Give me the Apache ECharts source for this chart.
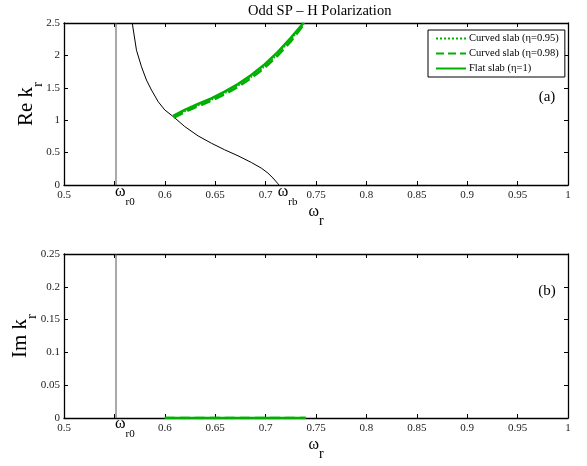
<!DOCTYPE html>
<html>
<head>
<meta charset="utf-8">
<script src="https://cdn.jsdelivr.net/npm/echarts@6/dist/echarts.min.js"></script>
<style>html,body{margin:0;padding:0;background:#fff;}#c{width:587px;height:466px;}</style>
</head>
<body>
<div id="c"></div>
<script>
// ---- data ----
var xTicksMin = 0.5, xTicksMax = 1, xStep = 0.05;
var omegaR0 = 0.5516;
var omegaRB = 0.7131;

var blackW = [0.5677, 0.5719, 0.5769, 0.5818, 0.5868, 0.5934, 0.6000, 0.6092, 0.6198, 0.6330, 0.6462, 0.6594, 0.6726, 0.6858, 0.6957, 0.7023, 0.7073, 0.7122, 0.7131];
var blackK = [2.500, 2.080, 1.824, 1.619, 1.465, 1.286, 1.158, 1.045, 0.902, 0.758, 0.645, 0.543, 0.451, 0.348, 0.261, 0.184, 0.108, 0.020, 0.000];

var flatW = [0.6083, 0.6198, 0.6330, 0.6462, 0.6594, 0.6726, 0.6858, 0.6990, 0.7122, 0.7250, 0.7375];
var flatK = [1.066, 1.158, 1.250, 1.337, 1.440, 1.557, 1.696, 1.860, 2.054, 2.270, 2.500];

var c98W = [0.6090, 0.6198, 0.6330, 0.6462, 0.6594, 0.6726, 0.6858, 0.6990, 0.7122, 0.7250, 0.7390];
var c98K = [1.040, 1.125, 1.215, 1.300, 1.400, 1.515, 1.650, 1.810, 2.000, 2.215, 2.500];

var c95W = [0.6087, 0.6198, 0.6330, 0.6462, 0.6594, 0.6726, 0.6858, 0.6990, 0.7122, 0.7250, 0.7385];
var c95K = [1.050, 1.135, 1.225, 1.312, 1.412, 1.528, 1.665, 1.826, 2.018, 2.235, 2.500];

// imaginary parts (all zero over the band)
var imW = [0.6000, 0.6400, 0.6800, 0.7200, 0.7398];
var imFlat = [0, 0, 0, 0, 0];
var imC98 = [0, 0, 0, 0, 0];
var imC95 = [0, 0, 0, 0, 0];

var names = ['Curved slab (\u03b7=0.95)', 'Curved slab (\u03b7=0.98)', 'Flat slab (\u03b7=1)'];

function zip(a, b) { return a.map(function (v, i) { return [v, b[i]]; }); }

var FONT = 'Liberation Serif';
var GREEN = '#00b000';

function fmt(v) { return String(+v.toFixed(2)); }

function mainX(gi) {
  return {
    type: 'value', gridIndex: gi, position: 'bottom', min: xTicksMin, max: xTicksMax, interval: xStep,
    axisLine: { show: true, onZero: false, lineStyle: { color: '#000', width: 1.3 } },
    axisTick: { show: true, inside: true, length: 4, lineStyle: { color: '#000' } },
    axisLabel: { fontFamily: FONT, fontSize: 11, color: '#222', margin: 5,
      formatter: function (v) { return Math.abs(v - 0.55) < 1e-6 ? '' : fmt(v); } },
    splitLine: { show: false },
    name: '{w|\u03c9}{s|r}', nameLocation: 'middle', nameGap: 11,
    nameTextStyle: { verticalAlign: 'top', rich: {
      w: { fontFamily: FONT, fontSize: 16, color: '#000', lineHeight: 32, verticalAlign: 'middle' },
      s: { fontFamily: FONT, fontSize: 14, color: '#000', lineHeight: 32, verticalAlign: 'bottom' } } }
  };
}
function topX(gi) {
  return {
    type: 'value', gridIndex: gi, position: 'top', min: xTicksMin, max: xTicksMax, interval: xStep,
    axisLine: { show: true, onZero: false, lineStyle: { color: '#000', width: 1.3 } },
    axisTick: { show: true, inside: true, length: 4, lineStyle: { color: '#000' } },
    axisLabel: { show: false }, splitLine: { show: false }
  };
}
function mainY(gi, max, step, nm, gap) {
  return {
    type: 'value', gridIndex: gi, position: 'left', min: 0, max: max, interval: step,
    axisLine: { show: true, onZero: false, lineStyle: { color: '#000', width: 1.3 } },
    axisTick: { show: true, inside: true, length: 4, lineStyle: { color: '#000' } },
    axisLabel: { fontFamily: FONT, fontSize: 11, color: '#222', margin: 4, formatter: fmt },
    splitLine: { show: false },
    name: nm, nameLocation: 'middle', nameGap: gap, nameRotate: 90, nameMoveOverlap: false,
    nameTextStyle: { rich: {
      a: { fontFamily: FONT, fontSize: 21, color: '#000', lineHeight: 40, verticalAlign: 'middle' },
      s: { fontFamily: FONT, fontSize: 15, color: '#000', lineHeight: 40, verticalAlign: 'bottom' } } }
  };
}
function rightY(gi, max, step) {
  return {
    type: 'value', gridIndex: gi, position: 'right', min: 0, max: max, interval: step,
    axisLine: { show: true, onZero: false, lineStyle: { color: '#000', width: 1.3 } },
    axisTick: { show: true, inside: true, length: 4, lineStyle: { color: '#000' } },
    axisLabel: { show: false }, splitLine: { show: false }
  };
}

function lineSeries(name, xi, yi, data, type, width, color) {
  return {
    name: name, type: 'line', xAxisIndex: xi, yAxisIndex: yi, data: data,
    symbol: 'none', showSymbol: false, silent: true, animation: false,
    lineStyle: { color: color, width: width, type: type }, itemStyle: { color: color }
  };
}

var chart = echarts.init(document.getElementById('c'), null, { renderer: 'canvas' });
chart.setOption({
  animation: false,
  backgroundColor: '#fff',
  title: { text: 'Odd SP \u2013 H Polarization', left: 243, top: -1,
    textStyle: { fontFamily: FONT, fontSize: 14.5, fontWeight: 'normal', color: '#000' } },
  legend: {
    data: names, orient: 'vertical', left: 428, top: 30,
    backgroundColor: '#fff', borderColor: '#000', borderWidth: 1, borderRadius: 0,
    padding: [3, 6, 3, 7], itemWidth: 30, itemHeight: 9, itemGap: 4,
    itemStyle: { opacity: 0 },
    textStyle: { fontFamily: FONT, fontSize: 10.5, color: '#000', padding: [0, 0, 0, -2] }
  },
  grid: [
    { left: 64, top: 23, width: 504, height: 162, outerBoundsMode: 'none' },
    { left: 64, top: 254, width: 504, height: 164, outerBoundsMode: 'none' }
  ],
  xAxis: [mainX(0), topX(0), mainX(1), topX(1)],
  yAxis: [mainY(0, 2.5, 0.5, '{a|Re k}{s|r}', 18), rightY(0, 2.5, 0.5), mainY(1, 0.25, 0.05, '{a|Im k}{s|r}', 24), rightY(1, 0.25, 0.05)],
  series: [
    lineSeries('r0a', 0, 0, [[omegaR0, 0], [omegaR0, 2.5]], 'solid', 1, '#555'),
    lineSeries('black', 0, 0, zip(blackW, blackK), 'solid', 1, '#000'),
    lineSeries(names[0], 0, 0, zip(c95W, c95K), 'dotted', 1.5, GREEN),
    lineSeries(names[1], 0, 0, zip(c98W, c98K), 'dashed', 2.5, GREEN),
    lineSeries(names[2], 0, 0, zip(flatW, flatK), 'solid', 2.5, GREEN),
    lineSeries('r0b', 2, 2, [[omegaR0, 0], [omegaR0, 0.25]], 'solid', 1, '#555'),
    lineSeries(names[0], 2, 2, zip(imW, imC95), 'dotted', 1.5, GREEN),
    lineSeries(names[1], 2, 2, zip(imW, imC98), 'dashed', 2.5, GREEN),
    lineSeries(names[2], 2, 2, zip(imW, imFlat), 'solid', 2.5, GREEN)
  ]
});

function omegaLabel(xIdx, w, sub, yTop) {
  var px = chart.convertToPixel({ xAxisIndex: xIdx }, w);
  return {
    type: 'text', x: px - 1, y: yTop, silent: true,
    style: { text: '{w|\u03c9}{s|' + sub + '}', align: 'left', verticalAlign: 'top',
      rich: {
        w: { fontFamily: FONT, fontSize: 16, fill: '#000', lineHeight: 24, verticalAlign: 'top' },
        s: { fontFamily: FONT, fontSize: 11, fill: '#000', lineHeight: 24, verticalAlign: 'bottom' } } }
  };
}

chart.setOption({
  graphic: [
    omegaLabel(0, omegaR0, 'r0', 184),
    omegaLabel(0, omegaRB, 'rb', 184),
    omegaLabel(2, omegaR0, 'r0', 416),
    { type: 'text', x: 547, y: 97, silent: true,
      style: { text: '(a)', align: 'center', verticalAlign: 'middle', fontFamily: FONT, fontSize: 15, fill: '#000' } },
    { type: 'text', x: 547, y: 291, silent: true,
      style: { text: '(b)', align: 'center', verticalAlign: 'middle', fontFamily: FONT, fontSize: 15, fill: '#000' } }
  ]
});
</script>
</body>
</html>
